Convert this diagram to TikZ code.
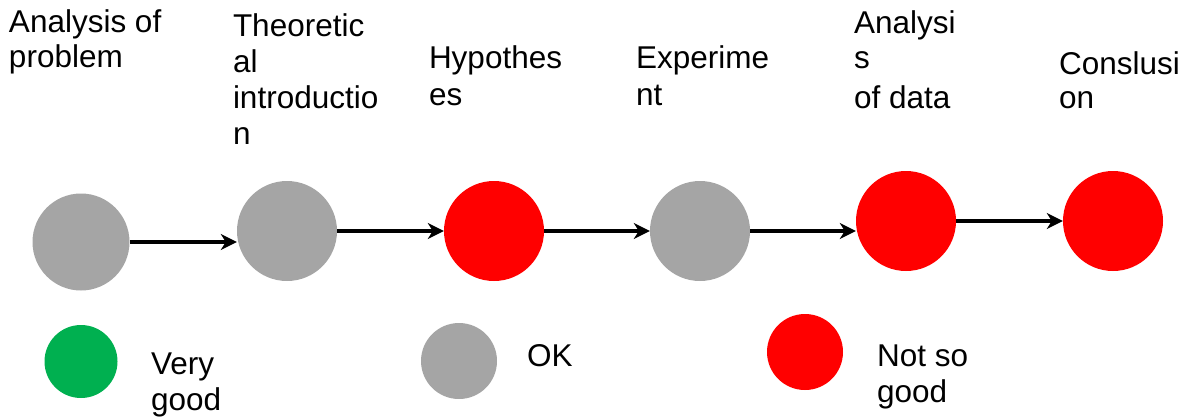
\documentclass[tikz,border=0pt]{standalone}
\usepackage{fontspec}
\setmainfont{Liberation Sans}
\usetikzlibrary{arrows.meta}
\definecolor{okgray}{HTML}{A5A5A5}
\definecolor{badred}{HTML}{FF0000}
\definecolor{goodgreen}{HTML}{00B050}
\newcommand\labellines[1]{\parbox[t]{200pt}{\fontsize{31.5}{36}\selectfont\raggedright #1}}
\begin{document}
\begin{tikzpicture}[x=1pt,y=-1pt,
  stage/.style={circle, minimum size=100pt, inner sep=0pt, draw=none},
  key/.style={circle, minimum size=76pt, inner sep=0pt, draw=none},
  lbl/.style={anchor=base west, inner sep=0pt, outer sep=0pt},
  flow/.style={line width=3.5pt, -{Stealth[length=16pt,width=16pt,inset=5pt]}}]
\useasboundingbox (0,0) rectangle (1186,418);

% stages
\node[stage, fill=okgray, minimum size=97pt] (n1) at (81,242) {};
\node[stage, fill=okgray] (n2) at (287,231) {};
\node[stage, fill=badred] (n3) at (494,231) {};
\node[stage, fill=okgray] (n4) at (700,231) {};
\node[stage, fill=badred] (n5) at (906,221) {};
\node[stage, fill=badred] (n6) at (1113,221) {};

% connectors
\draw[flow] (n1.east) -- (n2.west |- n1.east);
\draw[flow] (n2.east) -- (n3.west);
\draw[flow] (n3.east) -- (n4.west);
\draw[flow] (n4.east) -- (n5.west |- n4.east);
\draw[flow] (n5.east) -- (n6.west);

% stage labels
\node[lbl] (t1) at (9,32) {\labellines{Analysis of\\[-1pt]problem}};
\node[lbl] (t2) at (233,36) {\labellines{Theoretic\\al\\introductio\\n}};
\node[lbl] (t3) at (429,68) {\labellines{Hypothes\\[1pt]es}};
\node[lbl] (t4) at (636,68) {\labellines{Experime\\[1pt]nt}};
\node[lbl] (t5) at (854,33) {\labellines{Analysi\\[-1pt]s\\[4pt]of data}};
\node[lbl] (t6) at (1059,74) {\labellines{Conslusi\\[-2pt]on}};

% legend
\node[key, fill=goodgreen, minimum size=73pt] (k1) at (81,361.5) {};
\node[key, fill=okgray] (k2) at (459,361) {};
\node[key, fill=badred] (k3) at (805,352) {};
\node[lbl] (l1) at (151,374) {\labellines{Very\\good}};
\node[lbl] (l2) at (527,366) {\labellines{OK}};
\node[lbl] (l3) at (877,366) {\labellines{Not so\\good}};
\end{tikzpicture}
\end{document}
